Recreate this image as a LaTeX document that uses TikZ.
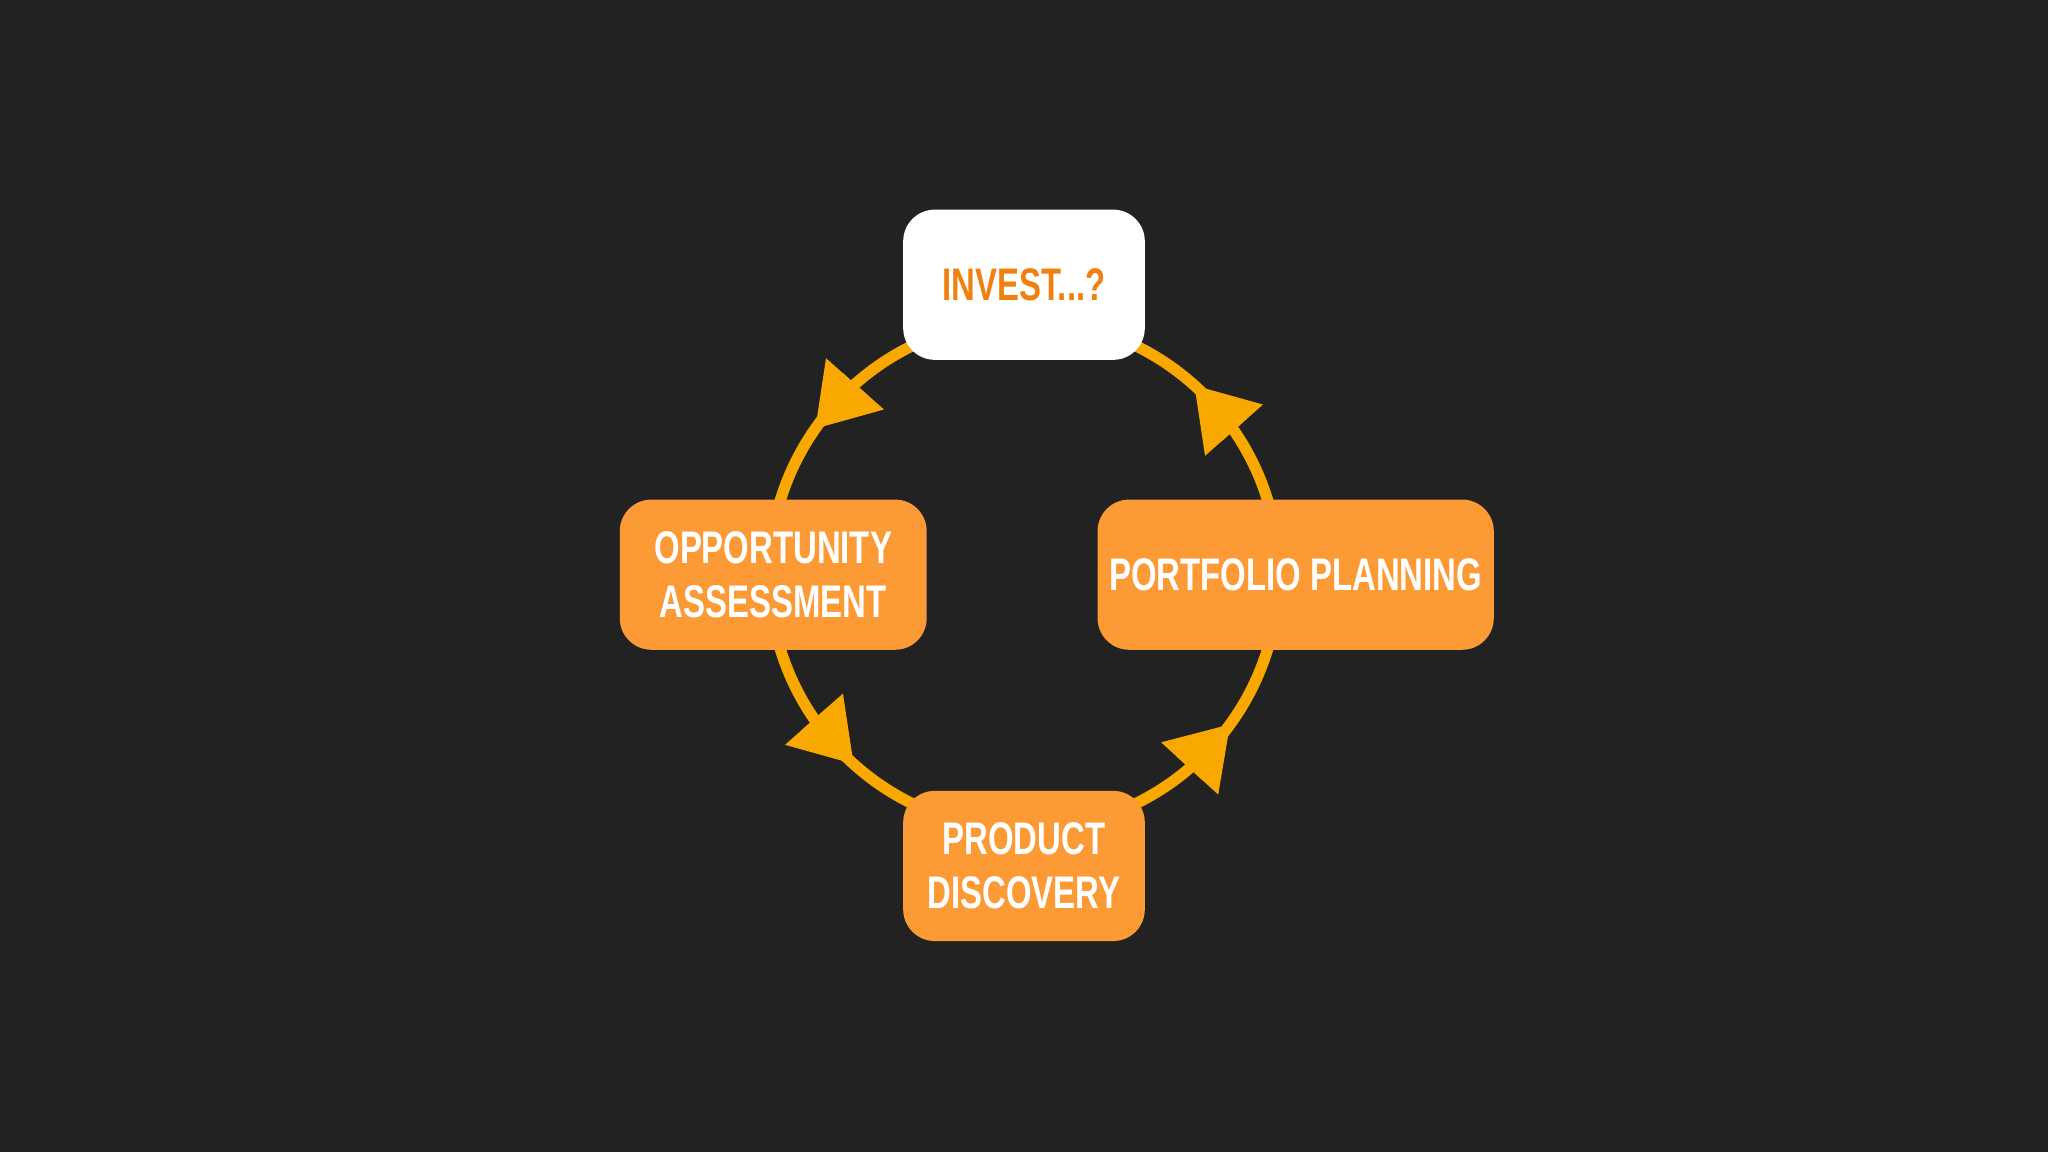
\documentclass[tikz,border=0pt]{standalone}
\usepackage{fontspec}
\setmainfont{Liberation Sans}
\usetikzlibrary{arrows.meta,calc}
\definecolor{bg}{HTML}{222222}
\definecolor{boxor}{HTML}{FC9A36}
\definecolor{arr}{HTML}{F9A800}
\definecolor{txtor}{HTML}{F08010}
\tikzset{
  box/.style={rounded corners=9pt,minimum width=235*0.01306cm,minimum height=115*0.01306cm,align=center,
    font=\fontsize{13}{15.5}\selectfont\bfseries},
  obox/.style={box,fill=boxor,text=white},
  wbox/.style={box,fill=white,text=txtor,minimum width=185*0.01306cm},
  ring/.style={draw=arr,line width=3.2pt},
  tipped/.style={draw=arr,line width=10pt,-{Triangle[length=17pt,width=22pt,line width=0pt]}}
}
\newcommand{\nar}[1]{\scalebox{0.72}[1]{#1}}
\begin{document}
\begin{tikzpicture}[x=0.01306cm,y=-0.01306cm]
\useasboundingbox[fill=bg] (0,0) rectangle (1568,882);
\coordinate (c) at (784,440);
\draw[ring] (c) circle[radius=195];
\foreach \a in {139,222,318,42}{
  \draw[tipped] ($(c)+(\a-7:195 and -195)$) -- ($(c)+(\a+6:195 and -195)$);
}
\node[wbox] (inv) at (784,218) {\nar{INVEST...?}};
\node[obox] (opp) at (592,440) {\nar{OPPORTUNITY}\\\nar{ASSESSMENT}};
\node[obox] (port) at (992,440) {\nar{PORTFOLIO PLANNING}};
\node[obox,minimum width=185*0.01306cm] (prod) at (784,663) {\nar{PRODUCT}\\\nar{DISCOVERY}};
\end{tikzpicture}
\end{document}
